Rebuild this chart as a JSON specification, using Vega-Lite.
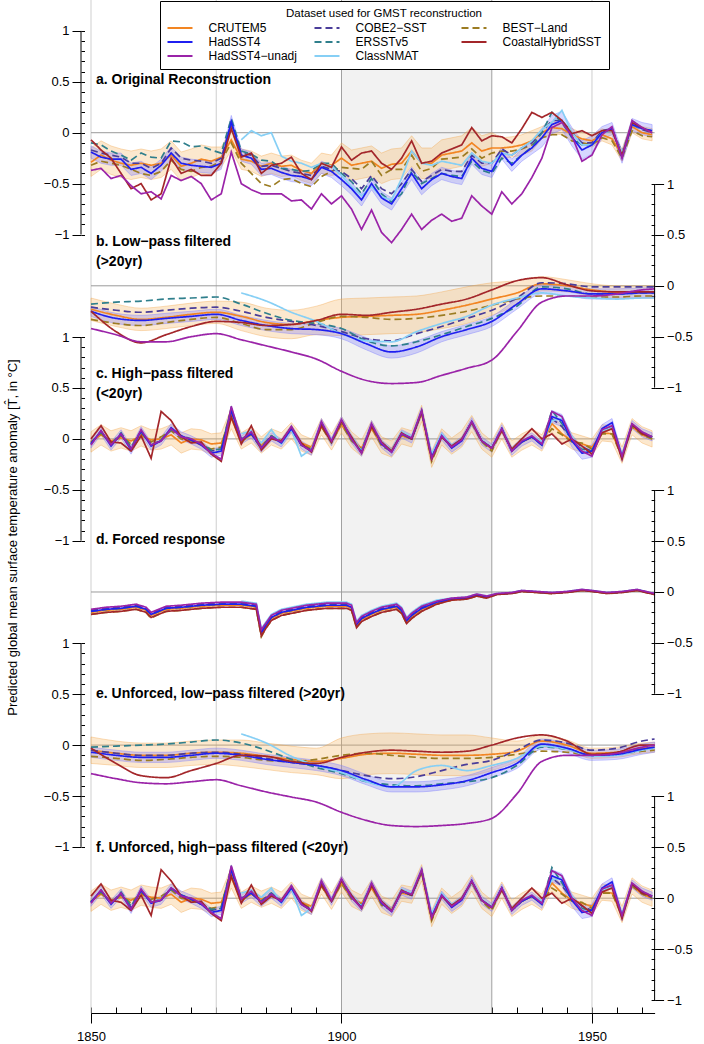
{
"$schema": "https://vega.github.io/schema/vega-lite/v6.json",
"width": 563.6, "height": 1013,
"autosize": {"type": "none"},
"padding": {"left": 91, "top": 0, "right": 49.4, "bottom": 31},
"background": "white",
"config": {"view": {"stroke": null}, "font": "Liberation Sans",
 "axis": {"labelFont": "Liberation Sans", "titleFont": "Liberation Sans", "labelColor": "#000", "tickColor": "#000", "domainColor": "#000", "titleColor": "#000", "grid": false, "tickWidth": 1},
 "text": {"font": "Liberation Sans"}},
"datasets": {
"names": [{"k":"C","s":"CRUTEM5"},{"k":"H","s":"HadSST4"},{"k":"U","s":"HadSST4−unadj"},{"k":"O","s":"COBE2−SST"},{"k":"E","s":"ERSSTv5"},{"k":"N","s":"ClassNMAT"},{"k":"B","s":"BEST−Land"},{"k":"K","s":"CoastalHybridSST"}],
"pa": [
{"x":1850,"C":-0.29,"Cl":-0.43,"Ch":-0.15,"H":-0.19,"Hl":-0.25,"Hh":-0.13,"U":-0.37,"O":-0.17,"E":-0.1,"B":-0.32,"K":-0.07},
{"x":1852,"C":-0.22,"Cl":-0.36,"Ch":-0.08,"H":-0.24,"Hl":-0.3,"Hh":-0.18,"U":-0.35,"O":-0.2,"E":-0.12,"B":-0.28,"K":-0.17},
{"x":1854,"C":-0.27,"Cl":-0.41,"Ch":-0.13,"H":-0.26,"Hl":-0.32,"Hh":-0.2,"U":-0.45,"O":-0.22,"E":-0.18,"B":-0.3,"K":-0.25},
{"x":1856,"C":-0.3,"Cl":-0.44,"Ch":-0.16,"H":-0.26,"Hl":-0.32,"Hh":-0.2,"U":-0.42,"O":-0.24,"E":-0.22,"B":-0.32,"K":-0.4},
{"x":1858,"C":-0.32,"Cl":-0.46,"Ch":-0.18,"H":-0.36,"Hl":-0.42,"Hh":-0.3,"U":-0.52,"O":-0.3,"E":-0.27,"B":-0.36,"K":-0.55},
{"x":1860,"C":-0.3,"Cl":-0.44,"Ch":-0.16,"H":-0.34,"Hl":-0.4,"Hh":-0.28,"U":-0.6,"O":-0.3,"E":-0.2,"B":-0.4,"K":-0.5},
{"x":1862,"C":-0.32,"Cl":-0.46,"Ch":-0.18,"H":-0.4,"Hl":-0.46,"Hh":-0.34,"U":-0.58,"O":-0.35,"E":-0.24,"B":-0.42,"K":-0.66},
{"x":1864,"C":-0.3,"Cl":-0.44,"Ch":-0.16,"H":-0.32,"Hl":-0.38,"Hh":-0.26,"U":-0.65,"O":-0.3,"E":-0.25,"B":-0.38,"K":-0.6},
{"x":1866,"C":-0.22,"Cl":-0.36,"Ch":-0.08,"H":-0.2,"Hl":-0.26,"Hh":-0.14,"U":-0.42,"O":-0.15,"E":-0.08,"B":-0.27,"K":-0.25},
{"x":1868,"C":-0.33,"Cl":-0.47,"Ch":-0.19,"H":-0.3,"Hl":-0.36,"Hh":-0.24,"U":-0.47,"O":-0.25,"E":-0.09,"B":-0.36,"K":-0.4},
{"x":1870,"C":-0.3,"Cl":-0.44,"Ch":-0.16,"H":-0.32,"Hl":-0.38,"Hh":-0.26,"U":-0.43,"O":-0.27,"E":-0.14,"B":-0.38,"K":-0.36},
{"x":1872,"C":-0.26,"Cl":-0.4,"Ch":-0.12,"H":-0.33,"Hl":-0.39,"Hh":-0.27,"U":-0.5,"O":-0.28,"E":-0.13,"B":-0.34,"K":-0.42},
{"x":1874,"C":-0.28,"Cl":-0.42,"Ch":-0.14,"H":-0.34,"Hl":-0.4,"Hh":-0.28,"U":-0.66,"O":-0.3,"E":-0.17,"B":-0.33,"K":-0.42},
{"x":1876,"C":-0.24,"Cl":-0.34,"Ch":-0.14,"H":-0.3,"Hl":-0.36,"Hh":-0.24,"U":-0.6,"O":-0.25,"E":-0.2,"B":-0.28,"K":-0.3},
{"x":1878,"C":-0.07,"Cl":-0.17,"Ch":0.03,"H":0.11,"Hl":0.05,"Hh":0.17,"U":-0.19,"O":0.09,"E":0.14,"B":-0.1,"K":0.04},
{"x":1880,"C":-0.26,"Cl":-0.36,"Ch":-0.16,"H":-0.22,"Hl":-0.28,"Hh":-0.16,"U":-0.5,"O":-0.2,"E":-0.18,"N":-0.07,"B":-0.3,"K":-0.24},
{"x":1882,"C":-0.28,"Cl":-0.38,"Ch":-0.18,"H":-0.25,"Hl":-0.31,"Hh":-0.19,"U":-0.56,"O":-0.22,"E":-0.21,"N":0.02,"B":-0.4,"K":-0.2},
{"x":1884,"C":-0.33,"Cl":-0.43,"Ch":-0.23,"H":-0.36,"Hl":-0.42,"Hh":-0.3,"U":-0.6,"O":-0.33,"E":-0.27,"N":-0.03,"B":-0.5,"K":-0.4},
{"x":1886,"C":-0.3,"Cl":-0.4,"Ch":-0.2,"H":-0.35,"Hl":-0.41,"Hh":-0.29,"U":-0.6,"O":-0.32,"E":-0.28,"N":0.0,"B":-0.53,"K":-0.32},
{"x":1888,"C":-0.33,"Cl":-0.43,"Ch":-0.23,"H":-0.39,"Hl":-0.45,"Hh":-0.33,"U":-0.6,"O":-0.35,"E":-0.35,"N":-0.23,"B":-0.46,"K":-0.3},
{"x":1890,"C":-0.32,"Cl":-0.42,"Ch":-0.22,"H":-0.42,"Hl":-0.48,"Hh":-0.36,"U":-0.67,"O":-0.38,"E":-0.36,"N":-0.28,"B":-0.45,"K":-0.24},
{"x":1892,"C":-0.37,"Cl":-0.47,"Ch":-0.27,"H":-0.43,"Hl":-0.49,"Hh":-0.37,"U":-0.66,"O":-0.4,"E":-0.38,"N":-0.3,"B":-0.5,"K":-0.4},
{"x":1894,"C":-0.4,"Cl":-0.5,"Ch":-0.3,"H":-0.46,"Hl":-0.52,"Hh":-0.4,"U":-0.75,"O":-0.42,"E":-0.37,"N":-0.34,"B":-0.53,"K":-0.46},
{"x":1896,"C":-0.3,"Cl":-0.4,"Ch":-0.2,"H":-0.34,"Hl":-0.4,"Hh":-0.28,"U":-0.6,"O":-0.33,"E":-0.3,"N":-0.3,"B":-0.43,"K":-0.3},
{"x":1898,"C":-0.32,"Cl":-0.42,"Ch":-0.22,"H":-0.38,"Hl":-0.44,"Hh":-0.32,"U":-0.7,"O":-0.36,"E":-0.3,"N":-0.33,"B":-0.38,"K":-0.34},
{"x":1900,"C":-0.25,"Cl":-0.4,"Ch":-0.1,"H":-0.46,"Hl":-0.52,"Hh":-0.4,"U":-0.62,"O":-0.38,"E":-0.4,"N":-0.42,"B":-0.34,"K":-0.14},
{"x":1902,"C":-0.32,"Cl":-0.47,"Ch":-0.17,"H":-0.55,"Hl":-0.61,"Hh":-0.49,"U":-0.75,"O":-0.45,"E":-0.48,"N":-0.53,"B":-0.35,"K":-0.27},
{"x":1904,"C":-0.3,"Cl":-0.45,"Ch":-0.15,"H":-0.66,"Hl":-0.72,"Hh":-0.6,"U":-0.95,"O":-0.55,"E":-0.6,"N":-0.62,"B":-0.36,"K":-0.2},
{"x":1906,"C":-0.28,"Cl":-0.43,"Ch":-0.13,"H":-0.5,"Hl":-0.56,"Hh":-0.44,"U":-0.76,"O":-0.42,"E":-0.45,"N":-0.53,"B":-0.28,"K":-0.18},
{"x":1908,"C":-0.35,"Cl":-0.5,"Ch":-0.2,"H":-0.64,"Hl":-0.7,"Hh":-0.58,"U":-0.98,"O":-0.55,"E":-0.6,"N":-0.63,"B":-0.42,"K":-0.3},
{"x":1910,"C":-0.31,"Cl":-0.46,"Ch":-0.16,"H":-0.7,"Hl":-0.76,"Hh":-0.64,"U":-1.08,"O":-0.6,"E":-0.68,"N":-0.66,"B":-0.36,"K":-0.36},
{"x":1912,"C":-0.3,"Cl":-0.45,"Ch":-0.15,"H":-0.55,"Hl":-0.61,"Hh":-0.49,"U":-0.95,"O":-0.5,"E":-0.6,"N":-0.45,"B":-0.36,"K":-0.25},
{"x":1914,"C":-0.18,"Cl":-0.33,"Ch":-0.03,"H":-0.4,"Hl":-0.46,"Hh":-0.34,"U":-0.8,"O":-0.36,"E":-0.38,"N":-0.18,"B":-0.22,"K":-0.08},
{"x":1916,"C":-0.3,"Cl":-0.45,"Ch":-0.15,"H":-0.55,"Hl":-0.61,"Hh":-0.49,"U":-0.95,"O":-0.48,"E":-0.5,"N":-0.3,"B":-0.38,"K":-0.3},
{"x":1918,"C":-0.3,"Cl":-0.45,"Ch":-0.15,"H":-0.46,"Hl":-0.52,"Hh":-0.4,"U":-0.86,"O":-0.42,"E":-0.45,"N":-0.32,"B":-0.35,"K":-0.28},
{"x":1920,"C":-0.22,"Cl":-0.37,"Ch":-0.07,"H":-0.4,"Hl":-0.46,"Hh":-0.34,"U":-0.8,"O":-0.36,"E":-0.4,"N":-0.28,"B":-0.26,"K":-0.2},
{"x":1922,"C":-0.2,"Cl":-0.35,"Ch":-0.05,"H":-0.43,"Hl":-0.49,"Hh":-0.37,"U":-0.87,"O":-0.38,"E":-0.42,"N":-0.3,"B":-0.25,"K":-0.16},
{"x":1924,"C":-0.18,"Cl":-0.33,"Ch":-0.03,"H":-0.45,"Hl":-0.51,"Hh":-0.39,"U":-0.84,"O":-0.38,"E":-0.43,"N":-0.32,"B":-0.24,"K":-0.12},
{"x":1926,"C":-0.1,"Cl":-0.25,"Ch":0.05,"H":-0.25,"Hl":-0.31,"Hh":-0.19,"U":-0.62,"O":-0.22,"E":-0.28,"N":-0.2,"B":-0.16,"K":0.05},
{"x":1928,"C":-0.18,"Cl":-0.33,"Ch":-0.03,"H":-0.35,"Hl":-0.41,"Hh":-0.29,"U":-0.72,"O":-0.3,"E":-0.37,"N":-0.28,"B":-0.25,"K":-0.08},
{"x":1930,"C":-0.15,"Cl":-0.3,"Ch":0.0,"H":-0.38,"Hl":-0.44,"Hh":-0.32,"U":-0.8,"O":-0.3,"E":-0.4,"N":-0.3,"B":-0.2,"K":-0.03},
{"x":1932,"C":-0.15,"Cl":-0.25,"Ch":-0.05,"H":-0.2,"Hl":-0.26,"Hh":-0.14,"U":-0.58,"O":-0.16,"E":-0.25,"N":-0.2,"B":-0.18,"K":-0.04},
{"x":1934,"C":-0.14,"Cl":-0.24,"Ch":-0.04,"H":-0.32,"Hl":-0.38,"Hh":-0.26,"U":-0.7,"O":-0.22,"E":-0.3,"N":-0.22,"B":-0.18,"K":-0.1},
{"x":1936,"C":-0.12,"Cl":-0.22,"Ch":-0.02,"H":-0.22,"Hl":-0.28,"Hh":-0.16,"U":-0.6,"O":-0.15,"E":-0.22,"N":-0.15,"B":-0.16,"K":0.04},
{"x":1938,"C":-0.08,"Cl":-0.18,"Ch":0.02,"H":-0.15,"Hl":-0.21,"Hh":-0.09,"U":-0.44,"O":-0.1,"E":-0.14,"N":-0.08,"B":-0.12,"K":0.2},
{"x":1940,"C":0.0,"Cl":-0.06,"Ch":0.06,"H":-0.05,"Hl":-0.14,"Hh":0.04,"U":-0.25,"O":0.0,"E":0.0,"N":0.03,"B":-0.05,"K":0.15},
{"x":1942,"C":0.05,"Cl":-0.01,"Ch":0.11,"H":0.08,"Hl":-0.01,"Hh":0.17,"U":0.05,"O":0.12,"E":0.2,"N":0.1,"B":-0.02,"K":0.2},
{"x":1944,"C":0.04,"Cl":-0.02,"Ch":0.1,"H":0.12,"Hl":0.03,"Hh":0.21,"U":0.1,"O":0.12,"E":0.1,"N":0.22,"B":-0.02,"K":0.12},
{"x":1946,"C":-0.02,"Cl":-0.08,"Ch":0.04,"H":-0.04,"Hl":-0.13,"Hh":0.05,"U":-0.03,"O":0.0,"E":-0.05,"N":0.0,"B":-0.08,"K":-0.01},
{"x":1948,"C":-0.06,"Cl":-0.12,"Ch":0.0,"H":-0.17,"Hl":-0.26,"Hh":-0.08,"U":-0.28,"O":-0.1,"E":-0.12,"N":-0.12,"B":-0.1,"K":0.02},
{"x":1950,"C":-0.08,"Cl":-0.14,"Ch":-0.02,"H":-0.12,"Hl":-0.21,"Hh":-0.03,"U":-0.22,"O":-0.1,"E":-0.12,"N":-0.12,"B":-0.12,"K":-0.03},
{"x":1952,"C":-0.02,"Cl":-0.08,"Ch":0.04,"H":0.0,"Hl":-0.06,"Hh":0.06,"U":-0.02,"O":0.02,"E":0.0,"N":0.0,"B":-0.05,"K":0.02},
{"x":1954,"C":-0.06,"Cl":-0.12,"Ch":0.0,"H":0.04,"Hl":-0.02,"Hh":0.1,"U":0.06,"O":0.04,"E":0.02,"N":0.02,"B":-0.08,"K":0.02},
{"x":1956,"C":-0.22,"Cl":-0.28,"Ch":-0.16,"H":-0.24,"Hl":-0.3,"Hh":-0.18,"U":-0.25,"O":-0.2,"E":-0.2,"N":-0.2,"B":-0.25,"K":-0.22},
{"x":1958,"C":0.06,"Cl":0.0,"Ch":0.12,"H":0.08,"Hl":0.02,"Hh":0.14,"U":0.12,"O":0.08,"E":0.08,"N":0.08,"B":0.02,"K":0.1},
{"x":1960,"C":0.0,"Cl":-0.06,"Ch":0.06,"H":0.04,"Hl":-0.02,"Hh":0.1,"U":0.05,"O":0.03,"E":0.04,"N":0.04,"B":-0.03,"K":0.05},
{"x":1962,"C":-0.02,"Cl":-0.08,"Ch":0.04,"H":0.02,"Hl":-0.04,"Hh":0.08,"U":0.0,"O":0.0,"E":0.02,"N":0.02,"B":-0.04,"K":0.0}
],
"pb": [
{"x":1850,"C":-0.23,"Cl":-0.34,"Ch":-0.12,"H":-0.25,"Hl":-0.3,"Hh":-0.2,"U":-0.42,"O":-0.21,"E":-0.18,"B":-0.33,"K":-0.25},
{"x":1855,"C":-0.29,"Cl":-0.4,"Ch":-0.18,"H":-0.32,"Hl":-0.37,"Hh":-0.27,"U":-0.48,"O":-0.24,"E":-0.16,"B":-0.37,"K":-0.45},
{"x":1860,"C":-0.33,"Cl":-0.44,"Ch":-0.22,"H":-0.34,"Hl":-0.39,"Hh":-0.29,"U":-0.55,"O":-0.26,"E":-0.15,"B":-0.39,"K":-0.56},
{"x":1865,"C":-0.31,"Cl":-0.42,"Ch":-0.2,"H":-0.32,"Hl":-0.37,"Hh":-0.27,"U":-0.55,"O":-0.24,"E":-0.13,"B":-0.36,"K":-0.48},
{"x":1870,"C":-0.28,"Cl":-0.39,"Ch":-0.17,"H":-0.3,"Hl":-0.35,"Hh":-0.25,"U":-0.5,"O":-0.22,"E":-0.12,"B":-0.33,"K":-0.4},
{"x":1875,"C":-0.26,"Cl":-0.37,"Ch":-0.15,"H":-0.28,"Hl":-0.33,"Hh":-0.23,"U":-0.47,"O":-0.21,"E":-0.11,"B":-0.31,"K":-0.35},
{"x":1880,"C":-0.3,"Cl":-0.44,"Ch":-0.16,"H":-0.34,"Hl":-0.39,"Hh":-0.29,"U":-0.53,"O":-0.25,"E":-0.18,"N":-0.07,"B":-0.37,"K":-0.36},
{"x":1885,"C":-0.36,"Cl":-0.5,"Ch":-0.22,"H":-0.39,"Hl":-0.44,"Hh":-0.34,"U":-0.59,"O":-0.31,"E":-0.27,"N":-0.15,"B":-0.43,"K":-0.39},
{"x":1890,"C":-0.38,"Cl":-0.52,"Ch":-0.24,"H":-0.42,"Hl":-0.47,"Hh":-0.37,"U":-0.65,"O":-0.35,"E":-0.34,"N":-0.26,"B":-0.43,"K":-0.38},
{"x":1895,"C":-0.34,"Cl":-0.48,"Ch":-0.2,"H":-0.43,"Hl":-0.48,"Hh":-0.38,"U":-0.72,"O":-0.39,"E":-0.37,"N":-0.35,"B":-0.36,"K":-0.34},
{"x":1900,"C":-0.31,"Cl":-0.49,"Ch":-0.13,"H":-0.47,"Hl":-0.52,"Hh":-0.42,"U":-0.84,"O":-0.45,"E":-0.42,"N":-0.47,"B":-0.3,"K":-0.28},
{"x":1905,"C":-0.3,"Cl":-0.48,"Ch":-0.12,"H":-0.57,"Hl":-0.63,"Hh":-0.51,"U":-0.93,"O":-0.52,"E":-0.54,"N":-0.54,"B":-0.31,"K":-0.29},
{"x":1910,"C":-0.29,"Cl":-0.47,"Ch":-0.11,"H":-0.65,"Hl":-0.71,"Hh":-0.59,"U":-0.96,"O":-0.54,"E":-0.59,"N":-0.55,"B":-0.33,"K":-0.26},
{"x":1915,"C":-0.28,"Cl":-0.46,"Ch":-0.1,"H":-0.6,"Hl":-0.66,"Hh":-0.54,"U":-0.95,"O":-0.47,"E":-0.55,"N":-0.45,"B":-0.32,"K":-0.23},
{"x":1920,"C":-0.24,"Cl":-0.42,"Ch":-0.06,"H":-0.5,"Hl":-0.55,"Hh":-0.45,"U":-0.88,"O":-0.4,"E":-0.48,"N":-0.37,"B":-0.29,"K":-0.18},
{"x":1925,"C":-0.19,"Cl":-0.37,"Ch":-0.01,"H":-0.43,"Hl":-0.48,"Hh":-0.38,"U":-0.81,"O":-0.32,"E":-0.4,"N":-0.3,"B":-0.25,"K":-0.13},
{"x":1930,"C":-0.13,"Cl":-0.29,"Ch":0.03,"H":-0.35,"Hl":-0.4,"Hh":-0.3,"U":-0.73,"O":-0.24,"E":-0.32,"N":-0.19,"B":-0.19,"K":-0.04},
{"x":1935,"C":-0.07,"Cl":-0.19,"Ch":0.05,"H":-0.18,"Hl":-0.23,"Hh":-0.13,"U":-0.45,"O":-0.12,"E":-0.2,"N":-0.12,"B":-0.13,"K":0.05},
{"x":1940,"C":0.02,"Cl":-0.05,"Ch":0.09,"H":-0.03,"Hl":-0.08,"Hh":0.02,"U":-0.16,"O":0.03,"E":-0.01,"N":-0.07,"B":-0.1,"K":0.08},
{"x":1945,"C":0.0,"Cl":-0.06,"Ch":0.06,"H":-0.05,"Hl":-0.1,"Hh":0.0,"U":-0.1,"O":0.02,"E":-0.03,"N":-0.1,"B":-0.1,"K":0.01},
{"x":1950,"C":-0.04,"Cl":-0.1,"Ch":0.02,"H":-0.08,"Hl":-0.13,"Hh":-0.03,"U":-0.1,"O":-0.01,"E":-0.08,"N":-0.12,"B":-0.11,"K":-0.05},
{"x":1955,"C":-0.06,"Cl":-0.12,"Ch":0.0,"H":-0.08,"Hl":-0.13,"Hh":-0.03,"U":-0.08,"O":-0.01,"E":-0.08,"N":-0.13,"B":-0.11,"K":-0.06},
{"x":1960,"C":-0.06,"Cl":-0.12,"Ch":0.0,"H":-0.07,"Hl":-0.12,"Hh":-0.02,"U":-0.04,"O":-0.01,"E":-0.07,"N":-0.12,"B":-0.1,"K":-0.06},
{"x":1962.5,"C":-0.06,"Cl":-0.12,"Ch":0.0,"H":-0.07,"Hl":-0.12,"Hh":-0.02,"U":-0.03,"O":-0.01,"E":-0.07,"N":-0.12,"B":-0.1,"K":-0.06}
],
"pc": [
{"x":1850,"C":-0.03,"Cl":-0.13,"Ch":0.07,"H":-0.05,"Hl":-0.09,"Hh":-0.01,"U":-0.06,"O":-0.04,"E":-0.05,"B":-0.03,"K":0.0},
{"x":1852,"C":0.04,"Cl":-0.06,"Ch":0.14,"H":0.08,"Hl":0.04,"Hh":0.12,"U":0.08,"O":0.07,"E":0.07,"B":0.05,"K":0.13},
{"x":1854,"C":-0.02,"Cl":-0.12,"Ch":0.08,"H":-0.07,"Hl":-0.11,"Hh":-0.03,"U":-0.06,"O":-0.05,"E":-0.05,"B":-0.04,"K":-0.03},
{"x":1856,"C":0.01,"Cl":-0.09,"Ch":0.11,"H":0.05,"Hl":0.01,"Hh":0.09,"U":0.05,"O":0.04,"E":0.06,"B":0.03,"K":-0.04},
{"x":1858,"C":-0.02,"Cl":-0.12,"Ch":0.08,"H":-0.11,"Hl":-0.15,"Hh":-0.07,"U":-0.1,"O":-0.09,"E":-0.08,"B":-0.05,"K":-0.12},
{"x":1860,"C":0.03,"Cl":-0.07,"Ch":0.13,"H":0.08,"Hl":0.04,"Hh":0.12,"U":0.09,"O":0.07,"E":0.08,"B":0.05,"K":0.03},
{"x":1862,"C":-0.01,"Cl":-0.11,"Ch":0.09,"H":-0.07,"Hl":-0.11,"Hh":-0.03,"U":-0.06,"O":-0.05,"E":-0.06,"B":-0.03,"K":-0.19},
{"x":1864,"C":0.0,"Cl":-0.1,"Ch":0.1,"H":-0.02,"Hl":-0.06,"Hh":0.02,"U":-0.02,"O":-0.02,"E":-0.01,"B":0.02,"K":0.27},
{"x":1866,"C":0.04,"Cl":-0.06,"Ch":0.14,"H":0.11,"Hl":0.07,"Hh":0.15,"U":0.1,"O":0.1,"E":0.09,"B":0.08,"K":0.18},
{"x":1868,"C":-0.04,"Cl":-0.14,"Ch":0.06,"H":0.03,"Hl":-0.01,"Hh":0.07,"U":0.02,"O":0.02,"E":0.03,"B":0.0,"K":0.02},
{"x":1870,"C":0.0,"Cl":-0.1,"Ch":0.1,"H":-0.01,"Hl":-0.05,"Hh":0.03,"U":0.0,"O":-0.01,"E":0.0,"B":-0.02,"K":-0.04},
{"x":1872,"C":-0.01,"Cl":-0.11,"Ch":0.09,"H":-0.06,"Hl":-0.1,"Hh":-0.02,"U":-0.05,"O":-0.05,"E":-0.05,"B":-0.06,"K":-0.03},
{"x":1874,"C":-0.05,"Cl":-0.15,"Ch":0.05,"H":-0.14,"Hl":-0.18,"Hh":-0.1,"U":-0.14,"O":-0.12,"E":-0.11,"B":-0.1,"K":-0.15},
{"x":1876,"C":-0.04,"Cl":-0.14,"Ch":0.06,"H":-0.12,"Hl":-0.16,"Hh":-0.08,"U":-0.2,"O":-0.1,"E":-0.1,"B":-0.08,"K":-0.22},
{"x":1878,"C":0.2,"Cl":0.1,"Ch":0.3,"H":0.28,"Hl":0.24,"Hh":0.32,"U":0.32,"O":0.28,"E":0.3,"B":0.3,"K":0.22},
{"x":1880,"C":-0.02,"Cl":-0.1,"Ch":0.06,"H":-0.01,"Hl":-0.05,"Hh":0.03,"U":-0.01,"O":-0.02,"E":0.0,"N":0.05,"B":-0.03,"K":-0.05},
{"x":1882,"C":0.04,"Cl":-0.04,"Ch":0.12,"H":0.05,"Hl":0.01,"Hh":0.09,"U":0.07,"O":0.06,"E":0.05,"N":0.08,"B":0.05,"K":0.13},
{"x":1884,"C":-0.06,"Cl":-0.14,"Ch":0.02,"H":-0.09,"Hl":-0.13,"Hh":-0.05,"U":-0.09,"O":-0.08,"E":-0.08,"N":-0.04,"B":-0.1,"K":-0.11},
{"x":1886,"C":0.02,"Cl":-0.06,"Ch":0.1,"H":0.02,"Hl":-0.02,"Hh":0.06,"U":0.02,"O":0.03,"E":0.03,"N":0.09,"B":0.03,"K":0.0},
{"x":1888,"C":-0.02,"Cl":-0.1,"Ch":0.06,"H":-0.04,"Hl":-0.08,"Hh":0.0,"U":-0.03,"O":-0.03,"E":-0.03,"N":-0.05,"B":-0.02,"K":-0.02},
{"x":1890,"C":0.08,"Cl":0.0,"Ch":0.16,"H":0.1,"Hl":0.06,"Hh":0.14,"U":0.12,"O":0.11,"E":0.1,"N":0.09,"B":0.1,"K":0.12},
{"x":1892,"C":-0.04,"Cl":-0.12,"Ch":0.04,"H":-0.06,"Hl":-0.1,"Hh":-0.02,"U":-0.06,"O":-0.06,"E":-0.06,"N":-0.17,"B":-0.05,"K":-0.04},
{"x":1894,"C":-0.08,"Cl":-0.16,"Ch":0.0,"H":-0.12,"Hl":-0.16,"Hh":-0.08,"U":-0.12,"O":-0.11,"E":-0.12,"N":-0.1,"B":-0.1,"K":-0.13},
{"x":1896,"C":0.12,"Cl":0.04,"Ch":0.2,"H":0.16,"Hl":0.12,"Hh":0.2,"U":0.17,"O":0.15,"E":0.15,"N":0.14,"B":0.12,"K":0.13},
{"x":1898,"C":-0.03,"Cl":-0.11,"Ch":0.05,"H":-0.03,"Hl":-0.07,"Hh":0.01,"U":-0.02,"O":-0.02,"E":-0.02,"N":-0.01,"B":-0.04,"K":-0.03},
{"x":1900,"C":0.14,"Cl":0.06,"Ch":0.22,"H":0.18,"Hl":0.14,"Hh":0.22,"U":0.19,"O":0.18,"E":0.18,"N":0.17,"B":0.15,"K":0.17},
{"x":1902,"C":-0.01,"Cl":-0.09,"Ch":0.07,"H":0.0,"Hl":-0.04,"Hh":0.04,"U":0.0,"O":0.0,"E":0.01,"N":0.02,"B":-0.02,"K":0.02},
{"x":1904,"C":-0.09,"Cl":-0.17,"Ch":-0.01,"H":-0.13,"Hl":-0.17,"Hh":-0.09,"U":-0.14,"O":-0.12,"E":-0.12,"N":-0.12,"B":-0.1,"K":-0.14},
{"x":1906,"C":0.1,"Cl":0.02,"Ch":0.18,"H":0.14,"Hl":0.1,"Hh":0.18,"U":0.15,"O":0.13,"E":0.14,"N":0.13,"B":0.12,"K":0.12},
{"x":1908,"C":-0.06,"Cl":-0.14,"Ch":0.02,"H":-0.05,"Hl":-0.09,"Hh":-0.01,"U":-0.04,"O":-0.04,"E":-0.04,"N":-0.03,"B":-0.07,"K":-0.03},
{"x":1910,"C":-0.1,"Cl":-0.18,"Ch":-0.02,"H":-0.13,"Hl":-0.17,"Hh":-0.09,"U":-0.13,"O":-0.12,"E":-0.12,"N":-0.11,"B":-0.12,"K":-0.12},
{"x":1912,"C":0.03,"Cl":-0.05,"Ch":0.11,"H":0.05,"Hl":0.01,"Hh":0.09,"U":0.05,"O":0.05,"E":0.05,"N":0.07,"B":0.04,"K":0.06},
{"x":1914,"C":0.0,"Cl":-0.08,"Ch":0.08,"H":0.0,"Hl":-0.04,"Hh":0.04,"U":0.01,"O":0.0,"E":0.0,"N":0.02,"B":0.0,"K":0.0},
{"x":1916,"C":0.25,"Cl":0.17,"Ch":0.33,"H":0.27,"Hl":0.23,"Hh":0.31,"U":0.28,"O":0.27,"E":0.27,"N":0.28,"B":0.26,"K":0.27},
{"x":1918,"C":-0.2,"Cl":-0.28,"Ch":-0.12,"H":-0.18,"Hl":-0.22,"Hh":-0.14,"U":-0.19,"O":-0.18,"E":-0.17,"N":-0.15,"B":-0.22,"K":-0.2},
{"x":1920,"C":0.02,"Cl":-0.06,"Ch":0.1,"H":0.03,"Hl":-0.01,"Hh":0.07,"U":0.03,"O":0.03,"E":0.03,"N":0.05,"B":0.02,"K":0.02},
{"x":1922,"C":-0.07,"Cl":-0.15,"Ch":0.01,"H":-0.09,"Hl":-0.13,"Hh":-0.05,"U":-0.08,"O":-0.08,"E":-0.08,"N":-0.06,"B":-0.08,"K":-0.07},
{"x":1924,"C":0.0,"Cl":-0.08,"Ch":0.08,"H":-0.02,"Hl":-0.06,"Hh":0.02,"U":-0.01,"O":-0.01,"E":-0.01,"N":0.0,"B":0.0,"K":0.0},
{"x":1926,"C":0.15,"Cl":0.07,"Ch":0.23,"H":0.17,"Hl":0.13,"Hh":0.21,"U":0.17,"O":0.17,"E":0.16,"N":0.15,"B":0.15,"K":0.16},
{"x":1928,"C":-0.02,"Cl":-0.1,"Ch":0.06,"H":-0.02,"Hl":-0.06,"Hh":0.02,"U":-0.02,"O":-0.02,"E":-0.02,"N":-0.01,"B":-0.03,"K":-0.02},
{"x":1930,"C":-0.1,"Cl":-0.18,"Ch":-0.02,"H":-0.09,"Hl":-0.13,"Hh":-0.05,"U":-0.09,"O":-0.09,"E":-0.09,"N":-0.08,"B":-0.12,"K":-0.09},
{"x":1932,"C":0.08,"Cl":0.0,"Ch":0.16,"H":0.1,"Hl":0.06,"Hh":0.14,"U":0.1,"O":0.1,"E":0.1,"N":0.09,"B":0.09,"K":0.08},
{"x":1934,"C":-0.1,"Cl":-0.18,"Ch":-0.02,"H":-0.12,"Hl":-0.16,"Hh":-0.08,"U":-0.12,"O":-0.11,"E":-0.11,"N":-0.1,"B":-0.12,"K":-0.1},
{"x":1936,"C":-0.03,"Cl":-0.11,"Ch":0.05,"H":-0.03,"Hl":-0.07,"Hh":0.01,"U":-0.02,"O":-0.02,"E":-0.03,"N":-0.02,"B":-0.03,"K":0.0},
{"x":1938,"C":0.02,"Cl":-0.06,"Ch":0.1,"H":0.02,"Hl":-0.02,"Hh":0.06,"U":0.03,"O":0.02,"E":0.02,"N":0.03,"B":0.02,"K":0.1},
{"x":1940,"C":-0.04,"Cl":-0.12,"Ch":0.04,"H":-0.06,"Hl":-0.1,"Hh":-0.02,"U":-0.05,"O":-0.05,"E":-0.06,"N":-0.03,"B":-0.04,"K":0.0},
{"x":1942,"C":0.15,"Cl":0.07,"Ch":0.23,"H":0.22,"Hl":0.16,"Hh":0.28,"U":0.27,"O":0.2,"E":0.28,"N":0.18,"B":0.1,"K":0.05},
{"x":1944,"C":0.05,"Cl":-0.03,"Ch":0.13,"H":0.18,"Hl":0.12,"Hh":0.24,"U":0.22,"O":0.12,"E":0.15,"N":0.2,"B":0.04,"K":-0.05},
{"x":1946,"C":-0.02,"Cl":-0.1,"Ch":0.06,"H":-0.02,"Hl":-0.08,"Hh":0.04,"U":0.0,"O":0.0,"E":-0.02,"N":0.02,"B":-0.03,"K":0.0},
{"x":1948,"C":-0.05,"Cl":-0.13,"Ch":0.03,"H":-0.14,"Hl":-0.2,"Hh":-0.08,"U":-0.12,"O":-0.08,"E":-0.1,"N":-0.12,"B":-0.04,"K":-0.07},
{"x":1950,"C":-0.08,"Cl":-0.16,"Ch":0.0,"H":-0.12,"Hl":-0.18,"Hh":-0.06,"U":-0.17,"O":-0.12,"E":-0.12,"N":-0.14,"B":-0.1,"K":-0.15},
{"x":1952,"C":0.06,"Cl":-0.02,"Ch":0.14,"H":0.1,"Hl":0.06,"Hh":0.14,"U":0.09,"O":0.08,"E":0.08,"N":0.08,"B":0.05,"K":0.06},
{"x":1954,"C":0.05,"Cl":-0.03,"Ch":0.13,"H":0.16,"Hl":0.12,"Hh":0.2,"U":0.13,"O":0.12,"E":0.12,"N":0.11,"B":0.05,"K":0.1},
{"x":1956,"C":-0.16,"Cl":-0.24,"Ch":-0.08,"H":-0.18,"Hl":-0.22,"Hh":-0.14,"U":-0.17,"O":-0.16,"E":-0.17,"N":-0.15,"B":-0.18,"K":-0.2},
{"x":1958,"C":0.12,"Cl":0.04,"Ch":0.2,"H":0.14,"Hl":0.1,"Hh":0.18,"U":0.15,"O":0.14,"E":0.14,"N":0.14,"B":0.12,"K":0.14},
{"x":1960,"C":0.04,"Cl":-0.04,"Ch":0.12,"H":0.06,"Hl":0.02,"Hh":0.1,"U":0.07,"O":0.05,"E":0.06,"N":0.06,"B":0.04,"K":0.05},
{"x":1962,"C":0.0,"Cl":-0.08,"Ch":0.08,"H":0.02,"Hl":-0.02,"Hh":0.06,"U":0.02,"O":0.01,"E":0.02,"N":0.02,"B":0.0,"K":0.02}
],
"pd": [
{"x":1850,"C":-0.2,"H":-0.19,"U":-0.17,"O":-0.18,"E":-0.19,"B":-0.22,"K":-0.22},
{"x":1853,"C":-0.18,"H":-0.17,"U":-0.15,"O":-0.16,"E":-0.17,"B":-0.2,"K":-0.2},
{"x":1856,"C":-0.17,"H":-0.16,"U":-0.14,"O":-0.15,"E":-0.16,"B":-0.19,"K":-0.19},
{"x":1859,"C":-0.15,"H":-0.14,"U":-0.12,"O":-0.13,"E":-0.14,"B":-0.17,"K":-0.17},
{"x":1861,"C":-0.18,"H":-0.17,"U":-0.15,"O":-0.16,"E":-0.17,"B":-0.2,"K":-0.2},
{"x":1862,"C":-0.23,"H":-0.22,"U":-0.2,"O":-0.21,"E":-0.22,"B":-0.26,"K":-0.25},
{"x":1863,"C":-0.21,"H":-0.2,"U":-0.18,"O":-0.19,"E":-0.2,"B":-0.23,"K":-0.23},
{"x":1865,"C":-0.17,"H":-0.16,"U":-0.14,"O":-0.15,"E":-0.16,"B":-0.19,"K":-0.19},
{"x":1868,"C":-0.16,"H":-0.15,"U":-0.13,"O":-0.14,"E":-0.15,"B":-0.18,"K":-0.18},
{"x":1872,"C":-0.14,"H":-0.13,"U":-0.11,"O":-0.12,"E":-0.13,"B":-0.16,"K":-0.16},
{"x":1876,"C":-0.13,"H":-0.12,"U":-0.1,"O":-0.11,"E":-0.12,"B":-0.15,"K":-0.15},
{"x":1880,"C":-0.13,"H":-0.12,"U":-0.1,"O":-0.11,"E":-0.12,"N":-0.09,"B":-0.15,"K":-0.15},
{"x":1883,"C":-0.15,"H":-0.14,"U":-0.12,"O":-0.13,"E":-0.14,"N":-0.11,"B":-0.17,"K":-0.17},
{"x":1884,"C":-0.41,"H":-0.4,"U":-0.37,"O":-0.39,"E":-0.4,"N":-0.36,"B":-0.44,"K":-0.43},
{"x":1885,"C":-0.33,"H":-0.32,"U":-0.3,"O":-0.31,"E":-0.32,"N":-0.29,"B":-0.35,"K":-0.35},
{"x":1886,"C":-0.26,"H":-0.25,"U":-0.23,"O":-0.24,"E":-0.25,"N":-0.22,"B":-0.28,"K":-0.28},
{"x":1888,"C":-0.21,"H":-0.2,"U":-0.18,"O":-0.19,"E":-0.2,"N":-0.17,"B":-0.23,"K":-0.23},
{"x":1890,"C":-0.19,"H":-0.18,"U":-0.16,"O":-0.17,"E":-0.18,"N":-0.15,"B":-0.21,"K":-0.21},
{"x":1893,"C":-0.16,"H":-0.15,"U":-0.13,"O":-0.14,"E":-0.15,"N":-0.12,"B":-0.18,"K":-0.18},
{"x":1897,"C":-0.14,"H":-0.13,"U":-0.11,"O":-0.12,"E":-0.13,"N":-0.1,"B":-0.16,"K":-0.16},
{"x":1901,"C":-0.14,"H":-0.13,"U":-0.11,"O":-0.12,"E":-0.13,"N":-0.1,"B":-0.16,"K":-0.16},
{"x":1902,"C":-0.16,"H":-0.15,"U":-0.13,"O":-0.14,"E":-0.15,"N":-0.12,"B":-0.18,"K":-0.18},
{"x":1903,"C":-0.33,"H":-0.32,"U":-0.3,"O":-0.31,"E":-0.32,"N":-0.29,"B":-0.35,"K":-0.35},
{"x":1904,"C":-0.27,"H":-0.26,"U":-0.24,"O":-0.25,"E":-0.26,"N":-0.23,"B":-0.29,"K":-0.29},
{"x":1906,"C":-0.22,"H":-0.21,"U":-0.19,"O":-0.2,"E":-0.21,"N":-0.18,"B":-0.24,"K":-0.24},
{"x":1908,"C":-0.18,"H":-0.17,"U":-0.15,"O":-0.16,"E":-0.17,"N":-0.14,"B":-0.2,"K":-0.2},
{"x":1911,"C":-0.15,"H":-0.14,"U":-0.12,"O":-0.13,"E":-0.14,"N":-0.11,"B":-0.17,"K":-0.17},
{"x":1912,"C":-0.19,"H":-0.18,"U":-0.16,"O":-0.17,"E":-0.18,"N":-0.15,"B":-0.21,"K":-0.21},
{"x":1913,"C":-0.29,"H":-0.28,"U":-0.26,"O":-0.27,"E":-0.28,"N":-0.25,"B":-0.31,"K":-0.31},
{"x":1914,"C":-0.24,"H":-0.23,"U":-0.21,"O":-0.22,"E":-0.23,"N":-0.2,"B":-0.26,"K":-0.26},
{"x":1916,"C":-0.17,"H":-0.16,"U":-0.14,"O":-0.15,"E":-0.16,"N":-0.13,"B":-0.19,"K":-0.19},
{"x":1919,"C":-0.11,"H":-0.1,"U":-0.09,"O":-0.1,"E":-0.1,"N":-0.08,"B":-0.12,"K":-0.12},
{"x":1922,"C":-0.08,"H":-0.07,"U":-0.06,"O":-0.07,"E":-0.07,"N":-0.06,"B":-0.08,"K":-0.08},
{"x":1925,"C":-0.06,"H":-0.06,"U":-0.05,"O":-0.06,"E":-0.06,"N":-0.05,"B":-0.07,"K":-0.07},
{"x":1927,"C":-0.03,"H":-0.03,"U":-0.02,"O":-0.03,"E":-0.03,"N":-0.02,"B":-0.04,"K":-0.04},
{"x":1929,"C":-0.05,"H":-0.05,"U":-0.04,"O":-0.05,"E":-0.05,"N":-0.04,"B":-0.06,"K":-0.06},
{"x":1931,"C":-0.02,"H":-0.02,"U":-0.015,"O":-0.02,"E":-0.02,"N":-0.015,"B":-0.025,"K":-0.025},
{"x":1934,"C":-0.01,"H":-0.01,"U":-0.005,"O":-0.01,"E":-0.01,"N":-0.005,"B":-0.015,"K":-0.015},
{"x":1936,"C":0.01,"H":0.01,"U":0.015,"O":0.01,"E":0.01,"N":0.015,"B":0.005,"K":0.005},
{"x":1939,"C":0.0,"H":0.0,"U":0.005,"O":0.0,"E":0.0,"N":0.005,"B":-0.005,"K":-0.005},
{"x":1942,"C":-0.01,"H":-0.01,"U":-0.005,"O":-0.01,"E":-0.01,"N":-0.005,"B":-0.015,"K":-0.015},
{"x":1945,"C":0.0,"H":0.0,"U":0.005,"O":0.0,"E":0.0,"N":0.005,"B":-0.005,"K":-0.005},
{"x":1948,"C":0.02,"H":0.02,"U":0.025,"O":0.02,"E":0.02,"N":0.025,"B":0.015,"K":0.015},
{"x":1950,"C":0.01,"H":0.01,"U":0.015,"O":0.01,"E":0.01,"N":0.015,"B":0.005,"K":0.005},
{"x":1953,"C":-0.01,"H":-0.01,"U":-0.005,"O":-0.01,"E":-0.01,"N":-0.005,"B":-0.015,"K":-0.015},
{"x":1956,"C":0.0,"H":0.0,"U":0.005,"O":0.0,"E":0.0,"N":0.005,"B":-0.005,"K":-0.005},
{"x":1959,"C":0.02,"H":0.02,"U":0.025,"O":0.02,"E":0.02,"N":0.025,"B":0.015,"K":0.015},
{"x":1962.5,"C":-0.02,"H":-0.02,"U":-0.015,"O":-0.02,"E":-0.02,"N":-0.015,"B":-0.025,"K":-0.025}
],
"pe": [
{"x":1850,"C":-0.05,"Cl":-0.18,"Ch":0.08,"H":-0.07,"Hl":-0.12,"Hh":-0.02,"U":-0.28,"O":-0.05,"E":-0.02,"B":-0.11,"K":-0.03},
{"x":1855,"C":-0.08,"Cl":-0.2,"Ch":0.04,"H":-0.1,"Hl":-0.15,"Hh":-0.05,"U":-0.33,"O":-0.08,"E":-0.01,"B":-0.13,"K":-0.18},
{"x":1860,"C":-0.1,"Cl":-0.22,"Ch":0.02,"H":-0.12,"Hl":-0.17,"Hh":-0.07,"U":-0.37,"O":-0.1,"E":0.0,"B":-0.15,"K":-0.3},
{"x":1865,"C":-0.1,"Cl":-0.22,"Ch":0.02,"H":-0.12,"Hl":-0.17,"Hh":-0.07,"U":-0.38,"O":-0.1,"E":0.01,"B":-0.14,"K":-0.32},
{"x":1870,"C":-0.08,"Cl":-0.2,"Ch":0.04,"H":-0.1,"Hl":-0.15,"Hh":-0.05,"U":-0.36,"O":-0.08,"E":0.03,"B":-0.12,"K":-0.25},
{"x":1875,"C":-0.07,"Cl":-0.19,"Ch":0.05,"H":-0.08,"Hl":-0.13,"Hh":-0.03,"U":-0.34,"O":-0.07,"E":0.05,"B":-0.11,"K":-0.18},
{"x":1880,"C":-0.08,"Cl":-0.21,"Ch":0.05,"H":-0.1,"Hl":-0.15,"Hh":-0.05,"U":-0.4,"O":-0.09,"E":0.02,"N":0.11,"B":-0.12,"K":-0.1},
{"x":1885,"C":-0.11,"Cl":-0.24,"Ch":0.02,"H":-0.14,"Hl":-0.19,"Hh":-0.09,"U":-0.46,"O":-0.13,"E":-0.05,"N":0.02,"B":-0.15,"K":-0.11},
{"x":1890,"C":-0.14,"Cl":-0.27,"Ch":-0.01,"H":-0.17,"Hl":-0.22,"Hh":-0.12,"U":-0.51,"O":-0.17,"E":-0.14,"N":-0.11,"B":-0.16,"K":-0.16},
{"x":1895,"C":-0.16,"Cl":-0.29,"Ch":-0.03,"H":-0.2,"Hl":-0.25,"Hh":-0.15,"U":-0.56,"O":-0.2,"E":-0.22,"N":-0.2,"B":-0.14,"K":-0.18},
{"x":1900,"C":-0.13,"Cl":-0.33,"Ch":0.07,"H":-0.25,"Hl":-0.3,"Hh":-0.2,"U":-0.66,"O":-0.25,"E":-0.28,"N":-0.27,"B":-0.1,"K":-0.12},
{"x":1905,"C":-0.09,"Cl":-0.29,"Ch":0.11,"H":-0.34,"Hl":-0.39,"Hh":-0.29,"U":-0.74,"O":-0.3,"E":-0.36,"N":-0.36,"B":-0.08,"K":-0.07},
{"x":1910,"C":-0.08,"Cl":-0.28,"Ch":0.12,"H":-0.41,"Hl":-0.46,"Hh":-0.36,"U":-0.79,"O":-0.33,"E":-0.39,"N":-0.41,"B":-0.1,"K":-0.05},
{"x":1915,"C":-0.09,"Cl":-0.29,"Ch":0.11,"H":-0.41,"Hl":-0.46,"Hh":-0.36,"U":-0.8,"O":-0.31,"E":-0.4,"N":-0.25,"B":-0.12,"K":-0.06},
{"x":1920,"C":-0.1,"Cl":-0.3,"Ch":0.1,"H":-0.39,"Hl":-0.44,"Hh":-0.34,"U":-0.79,"O":-0.25,"E":-0.38,"N":-0.2,"B":-0.13,"K":-0.07},
{"x":1925,"C":-0.1,"Cl":-0.3,"Ch":0.1,"H":-0.35,"Hl":-0.4,"Hh":-0.3,"U":-0.77,"O":-0.19,"E":-0.36,"N":-0.25,"B":-0.13,"K":-0.06},
{"x":1930,"C":-0.09,"Cl":-0.25,"Ch":0.07,"H":-0.27,"Hl":-0.32,"Hh":-0.22,"U":-0.72,"O":-0.15,"E":-0.32,"N":-0.2,"B":-0.12,"K":0.0},
{"x":1935,"C":-0.06,"Cl":-0.16,"Ch":0.04,"H":-0.18,"Hl":-0.23,"Hh":-0.13,"U":-0.48,"O":-0.05,"E":-0.2,"N":-0.13,"B":-0.09,"K":0.07},
{"x":1940,"C":0.04,"Cl":-0.02,"Ch":0.1,"H":0.01,"Hl":-0.04,"Hh":0.06,"U":-0.16,"O":0.05,"E":-0.02,"N":-0.01,"B":-0.06,"K":0.1},
{"x":1945,"C":0.0,"Cl":-0.05,"Ch":0.05,"H":-0.03,"Hl":-0.08,"Hh":0.02,"U":-0.1,"O":0.02,"E":-0.04,"N":-0.04,"B":-0.07,"K":0.04},
{"x":1950,"C":-0.08,"Cl":-0.13,"Ch":-0.03,"H":-0.1,"Hl":-0.15,"Hh":-0.05,"U":-0.1,"O":-0.05,"E":-0.1,"N":-0.11,"B":-0.1,"K":-0.09},
{"x":1955,"C":-0.07,"Cl":-0.12,"Ch":-0.02,"H":-0.09,"Hl":-0.14,"Hh":-0.04,"U":-0.08,"O":-0.03,"E":-0.08,"N":-0.1,"B":-0.09,"K":-0.07},
{"x":1960,"C":-0.03,"Cl":-0.08,"Ch":0.02,"H":-0.04,"Hl":-0.09,"Hh":0.01,"U":-0.02,"O":0.04,"E":-0.04,"N":-0.05,"B":-0.06,"K":0.0},
{"x":1962.5,"C":-0.02,"Cl":-0.07,"Ch":0.03,"H":-0.02,"Hl":-0.07,"Hh":0.03,"U":0.0,"O":0.06,"E":-0.03,"N":-0.03,"B":-0.05,"K":0.0}
],
"pf": [
{"x":1850,"C":-0.03,"Cl":-0.13,"Ch":0.07,"H":-0.04,"Hl":-0.08,"Hh":0.0,"U":-0.05,"O":-0.04,"E":-0.04,"B":-0.03,"K":0.02},
{"x":1852,"C":0.04,"Cl":-0.06,"Ch":0.14,"H":0.08,"Hl":0.04,"Hh":0.12,"U":0.08,"O":0.07,"E":0.07,"B":0.05,"K":0.14},
{"x":1854,"C":-0.02,"Cl":-0.12,"Ch":0.08,"H":-0.06,"Hl":-0.1,"Hh":-0.02,"U":-0.05,"O":-0.05,"E":-0.05,"B":-0.04,"K":-0.02},
{"x":1856,"C":0.01,"Cl":-0.09,"Ch":0.11,"H":0.05,"Hl":0.01,"Hh":0.09,"U":0.05,"O":0.04,"E":0.06,"B":0.03,"K":-0.04},
{"x":1858,"C":-0.02,"Cl":-0.12,"Ch":0.08,"H":-0.11,"Hl":-0.15,"Hh":-0.07,"U":-0.11,"O":-0.09,"E":-0.08,"B":-0.05,"K":-0.12},
{"x":1860,"C":0.03,"Cl":-0.07,"Ch":0.13,"H":0.08,"Hl":0.04,"Hh":0.12,"U":0.09,"O":0.07,"E":0.08,"B":0.05,"K":0.03},
{"x":1862,"C":0.01,"Cl":-0.09,"Ch":0.11,"H":-0.05,"Hl":-0.09,"Hh":-0.01,"U":-0.04,"O":-0.03,"E":-0.04,"B":-0.01,"K":-0.17},
{"x":1864,"C":0.0,"Cl":-0.1,"Ch":0.1,"H":-0.02,"Hl":-0.06,"Hh":0.02,"U":-0.02,"O":-0.02,"E":-0.01,"B":0.02,"K":0.28},
{"x":1866,"C":0.04,"Cl":-0.06,"Ch":0.14,"H":0.1,"Hl":0.06,"Hh":0.14,"U":0.1,"O":0.1,"E":0.09,"B":0.08,"K":0.17},
{"x":1868,"C":-0.04,"Cl":-0.14,"Ch":0.06,"H":0.03,"Hl":-0.01,"Hh":0.07,"U":0.02,"O":0.02,"E":0.03,"B":0.0,"K":0.02},
{"x":1870,"C":0.0,"Cl":-0.1,"Ch":0.1,"H":-0.01,"Hl":-0.05,"Hh":0.03,"U":0.0,"O":-0.01,"E":0.0,"B":-0.02,"K":-0.04},
{"x":1872,"C":-0.01,"Cl":-0.11,"Ch":0.09,"H":-0.06,"Hl":-0.1,"Hh":-0.02,"U":-0.05,"O":-0.05,"E":-0.05,"B":-0.06,"K":-0.03},
{"x":1874,"C":-0.05,"Cl":-0.15,"Ch":0.05,"H":-0.14,"Hl":-0.18,"Hh":-0.1,"U":-0.14,"O":-0.12,"E":-0.11,"B":-0.1,"K":-0.15},
{"x":1876,"C":-0.04,"Cl":-0.14,"Ch":0.06,"H":-0.12,"Hl":-0.16,"Hh":-0.08,"U":-0.2,"O":-0.1,"E":-0.1,"B":-0.08,"K":-0.22},
{"x":1878,"C":0.2,"Cl":0.1,"Ch":0.3,"H":0.28,"Hl":0.24,"Hh":0.32,"U":0.32,"O":0.28,"E":0.3,"B":0.3,"K":0.22},
{"x":1880,"C":-0.02,"Cl":-0.1,"Ch":0.06,"H":-0.01,"Hl":-0.05,"Hh":0.03,"U":-0.01,"O":-0.02,"E":0.0,"N":0.05,"B":-0.03,"K":-0.05},
{"x":1882,"C":0.04,"Cl":-0.04,"Ch":0.12,"H":0.05,"Hl":0.01,"Hh":0.09,"U":0.07,"O":0.06,"E":0.05,"N":0.08,"B":0.05,"K":0.13},
{"x":1884,"C":-0.01,"Cl":-0.09,"Ch":0.07,"H":-0.04,"Hl":-0.08,"Hh":0.0,"U":-0.04,"O":-0.03,"E":-0.03,"N":0.01,"B":-0.05,"K":-0.06},
{"x":1886,"C":0.03,"Cl":-0.05,"Ch":0.11,"H":0.04,"Hl":0.0,"Hh":0.08,"U":0.04,"O":0.05,"E":0.05,"N":0.1,"B":0.05,"K":0.02},
{"x":1888,"C":-0.02,"Cl":-0.1,"Ch":0.06,"H":-0.04,"Hl":-0.08,"Hh":0.0,"U":-0.03,"O":-0.03,"E":-0.03,"N":-0.05,"B":-0.02,"K":-0.02},
{"x":1890,"C":0.08,"Cl":0.0,"Ch":0.16,"H":0.1,"Hl":0.06,"Hh":0.14,"U":0.12,"O":0.11,"E":0.1,"N":0.09,"B":0.1,"K":0.12},
{"x":1892,"C":-0.04,"Cl":-0.12,"Ch":0.04,"H":-0.06,"Hl":-0.1,"Hh":-0.02,"U":-0.06,"O":-0.06,"E":-0.06,"N":-0.17,"B":-0.05,"K":-0.04},
{"x":1894,"C":-0.08,"Cl":-0.16,"Ch":0.0,"H":-0.12,"Hl":-0.16,"Hh":-0.08,"U":-0.12,"O":-0.11,"E":-0.12,"N":-0.1,"B":-0.1,"K":-0.13},
{"x":1896,"C":0.12,"Cl":0.04,"Ch":0.2,"H":0.16,"Hl":0.12,"Hh":0.2,"U":0.17,"O":0.15,"E":0.15,"N":0.14,"B":0.12,"K":0.13},
{"x":1898,"C":-0.03,"Cl":-0.11,"Ch":0.05,"H":-0.03,"Hl":-0.07,"Hh":0.01,"U":-0.02,"O":-0.02,"E":-0.02,"N":-0.01,"B":-0.04,"K":-0.03},
{"x":1900,"C":0.14,"Cl":0.06,"Ch":0.22,"H":0.18,"Hl":0.14,"Hh":0.22,"U":0.19,"O":0.18,"E":0.18,"N":0.17,"B":0.15,"K":0.17},
{"x":1902,"C":0.0,"Cl":-0.08,"Ch":0.08,"H":0.01,"Hl":-0.03,"Hh":0.05,"U":0.01,"O":0.01,"E":0.02,"N":0.03,"B":-0.01,"K":0.03},
{"x":1904,"C":-0.05,"Cl":-0.13,"Ch":0.03,"H":-0.09,"Hl":-0.13,"Hh":-0.05,"U":-0.1,"O":-0.08,"E":-0.08,"N":-0.08,"B":-0.06,"K":-0.1},
{"x":1906,"C":0.1,"Cl":0.02,"Ch":0.18,"H":0.14,"Hl":0.1,"Hh":0.18,"U":0.15,"O":0.13,"E":0.14,"N":0.13,"B":0.12,"K":0.12},
{"x":1908,"C":-0.06,"Cl":-0.14,"Ch":0.02,"H":-0.05,"Hl":-0.09,"Hh":-0.01,"U":-0.04,"O":-0.04,"E":-0.04,"N":-0.03,"B":-0.07,"K":-0.03},
{"x":1910,"C":-0.1,"Cl":-0.18,"Ch":-0.02,"H":-0.13,"Hl":-0.17,"Hh":-0.09,"U":-0.13,"O":-0.12,"E":-0.12,"N":-0.11,"B":-0.12,"K":-0.12},
{"x":1912,"C":0.05,"Cl":-0.03,"Ch":0.13,"H":0.07,"Hl":0.03,"Hh":0.11,"U":0.07,"O":0.07,"E":0.07,"N":0.09,"B":0.06,"K":0.08},
{"x":1914,"C":0.03,"Cl":-0.05,"Ch":0.11,"H":0.03,"Hl":-0.01,"Hh":0.07,"U":0.04,"O":0.03,"E":0.03,"N":0.05,"B":0.03,"K":0.03},
{"x":1916,"C":0.25,"Cl":0.17,"Ch":0.33,"H":0.27,"Hl":0.23,"Hh":0.31,"U":0.28,"O":0.27,"E":0.27,"N":0.28,"B":0.26,"K":0.27},
{"x":1918,"C":-0.2,"Cl":-0.28,"Ch":-0.12,"H":-0.18,"Hl":-0.22,"Hh":-0.14,"U":-0.19,"O":-0.18,"E":-0.17,"N":-0.15,"B":-0.22,"K":-0.2},
{"x":1920,"C":0.02,"Cl":-0.06,"Ch":0.1,"H":0.03,"Hl":-0.01,"Hh":0.07,"U":0.03,"O":0.03,"E":0.03,"N":0.05,"B":0.02,"K":0.02},
{"x":1922,"C":-0.07,"Cl":-0.15,"Ch":0.01,"H":-0.09,"Hl":-0.13,"Hh":-0.05,"U":-0.08,"O":-0.08,"E":-0.08,"N":-0.06,"B":-0.08,"K":-0.07},
{"x":1924,"C":0.0,"Cl":-0.08,"Ch":0.08,"H":-0.02,"Hl":-0.06,"Hh":0.02,"U":-0.01,"O":-0.01,"E":-0.01,"N":0.0,"B":0.0,"K":0.0},
{"x":1926,"C":0.15,"Cl":0.07,"Ch":0.23,"H":0.17,"Hl":0.13,"Hh":0.21,"U":0.17,"O":0.17,"E":0.16,"N":0.15,"B":0.15,"K":0.16},
{"x":1928,"C":-0.02,"Cl":-0.1,"Ch":0.06,"H":-0.02,"Hl":-0.06,"Hh":0.02,"U":-0.02,"O":-0.02,"E":-0.02,"N":-0.01,"B":-0.03,"K":-0.02},
{"x":1930,"C":-0.1,"Cl":-0.18,"Ch":-0.02,"H":-0.09,"Hl":-0.13,"Hh":-0.05,"U":-0.09,"O":-0.09,"E":-0.09,"N":-0.08,"B":-0.12,"K":-0.09},
{"x":1932,"C":0.08,"Cl":0.0,"Ch":0.16,"H":0.1,"Hl":0.06,"Hh":0.14,"U":0.1,"O":0.1,"E":0.1,"N":0.09,"B":0.09,"K":0.08},
{"x":1934,"C":-0.1,"Cl":-0.18,"Ch":-0.02,"H":-0.12,"Hl":-0.16,"Hh":-0.08,"U":-0.12,"O":-0.11,"E":-0.11,"N":-0.1,"B":-0.12,"K":-0.1},
{"x":1936,"C":-0.03,"Cl":-0.11,"Ch":0.05,"H":-0.03,"Hl":-0.07,"Hh":0.01,"U":-0.02,"O":-0.02,"E":-0.03,"N":-0.02,"B":-0.03,"K":0.0},
{"x":1938,"C":0.02,"Cl":-0.06,"Ch":0.1,"H":0.02,"Hl":-0.02,"Hh":0.06,"U":0.03,"O":0.02,"E":0.02,"N":0.03,"B":0.02,"K":0.1},
{"x":1940,"C":-0.04,"Cl":-0.12,"Ch":0.04,"H":-0.06,"Hl":-0.1,"Hh":-0.02,"U":-0.05,"O":-0.05,"E":-0.06,"N":-0.03,"B":-0.04,"K":0.0},
{"x":1942,"C":0.15,"Cl":0.07,"Ch":0.23,"H":0.22,"Hl":0.16,"Hh":0.28,"U":0.27,"O":0.2,"E":0.3,"N":0.18,"B":0.1,"K":0.05},
{"x":1944,"C":0.05,"Cl":-0.03,"Ch":0.13,"H":0.18,"Hl":0.12,"Hh":0.24,"U":0.22,"O":0.12,"E":0.15,"N":0.2,"B":0.04,"K":-0.05},
{"x":1946,"C":-0.02,"Cl":-0.1,"Ch":0.06,"H":-0.02,"Hl":-0.08,"Hh":0.04,"U":0.0,"O":0.0,"E":-0.02,"N":0.02,"B":-0.03,"K":0.0},
{"x":1948,"C":-0.05,"Cl":-0.13,"Ch":0.03,"H":-0.14,"Hl":-0.2,"Hh":-0.08,"U":-0.12,"O":-0.08,"E":-0.1,"N":-0.12,"B":-0.04,"K":-0.07},
{"x":1950,"C":-0.08,"Cl":-0.16,"Ch":0.0,"H":-0.12,"Hl":-0.18,"Hh":-0.06,"U":-0.17,"O":-0.12,"E":-0.12,"N":-0.14,"B":-0.1,"K":-0.15},
{"x":1952,"C":0.06,"Cl":-0.02,"Ch":0.14,"H":0.1,"Hl":0.06,"Hh":0.14,"U":0.09,"O":0.08,"E":0.08,"N":0.08,"B":0.05,"K":0.06},
{"x":1954,"C":0.05,"Cl":-0.03,"Ch":0.13,"H":0.16,"Hl":0.12,"Hh":0.2,"U":0.13,"O":0.12,"E":0.12,"N":0.11,"B":0.05,"K":0.1},
{"x":1956,"C":-0.16,"Cl":-0.24,"Ch":-0.08,"H":-0.18,"Hl":-0.22,"Hh":-0.14,"U":-0.17,"O":-0.16,"E":-0.17,"N":-0.15,"B":-0.18,"K":-0.2},
{"x":1958,"C":0.12,"Cl":0.04,"Ch":0.2,"H":0.14,"Hl":0.1,"Hh":0.18,"U":0.15,"O":0.14,"E":0.14,"N":0.14,"B":0.12,"K":0.14},
{"x":1960,"C":0.04,"Cl":-0.04,"Ch":0.12,"H":0.06,"Hl":0.02,"Hh":0.1,"U":0.07,"O":0.05,"E":0.06,"N":0.06,"B":0.04,"K":0.05},
{"x":1962,"C":0.0,"Cl":-0.08,"Ch":0.08,"H":0.02,"Hl":-0.02,"Hh":0.06,"U":0.02,"O":0.01,"E":0.02,"N":0.02,"B":0.0,"K":0.02}
]
},
"layer": [
{"data": {"values": [{"x": 1900, "x2": 1930}]}, "mark": {"type": "rect", "color": "#f2f2f2"},
 "encoding": {"x": {"field": "x", "type": "quantitative", "scale": {"domain": [1850, 1962.5], "nice": false, "zero": false}, "axis": null, "title": null}, "x2": {"field": "x2"}}},
{"data": {"values": [{"x": 1850}, {"x": 1875}, {"x": 1950}]}, "mark": {"type": "rule", "color": "#cfcfcf", "strokeWidth": 1},
 "encoding": {"x": {"field": "x", "type": "quantitative", "title": null, "scale": {"domain": [1850, 1962.5], "nice": false, "zero": false},
   "axis": {"orient": "bottom", "values": [1850, 1900, 1950], "format": "d", "tickSize": 10, "labelFontSize": 13, "labelPadding": 7, "labelOverlap": false, "labelFlush": false, "domain": true, "grid": false, "title": null}}}},
{"data": {"values": [{"x": 1900}, {"x": 1930}]}, "mark": {"type": "rule", "color": "#a0a0a0", "strokeWidth": 1},
 "encoding": {"x": {"field": "x", "type": "quantitative", "title": null, "scale": {"domain": [1850, 1962.5], "nice": false, "zero": false},
   "axis": {"orient": "bottom", "values": [1850,1855,1860,1865,1870,1875,1880,1885,1890,1895,1900,1905,1910,1915,1920,1925,1930,1935,1940,1945,1950,1955,1960], "labels": false, "tickSize": -6, "domain": false, "grid": false, "title": null}}}},

{"data": {"name": "pa"}, "resolve": {"scale": {"y": "independent"}, "axis": {"y": "independent"}}, "layer": [
 {"data": {"values": [{}]}, "mark": {"type": "rule", "color": "#9a9a9a", "strokeWidth": 1},
  "encoding": {"y": {"datum": 0, "type": "quantitative", "scale": {"domain": [-8.6473, 1.3036], "nice": false, "zero": false},
   "axis": {"orient": "left", "offset": 10, "values": [-1,-0.9,-0.8,-0.7,-0.6,-0.5,-0.4,-0.3,-0.2,-0.1,0,0.1,0.2,0.3,0.4,0.5,0.6,0.7,0.8,0.9,1], "labels": false, "tickSize": -3.5, "domain": false, "grid": false, "title": null}}}},
 {"mark": {"type": "area", "fill": "#f5b45c", "fillOpacity": 0.3, "stroke": "#f0a040", "strokeOpacity": 0.45, "strokeWidth": 0.8},
  "encoding": {"x": {"field": "x", "type": "quantitative", "scale": {"domain": [1850, 1962.5], "nice": false, "zero": false}, "axis": null, "title": null},
   "y": {"field": "Cl", "type": "quantitative", "scale": {"domain": [-8.6473, 1.3036], "nice": false, "zero": false}, "axis": null}, "y2": {"field": "Ch"}}},
 {"mark": {"type": "area", "fill": "#6f6fff", "fillOpacity": 0.28, "stroke": "#7a7aff", "strokeOpacity": 0.5, "strokeWidth": 0.8},
  "encoding": {"x": {"field": "x", "type": "quantitative", "scale": {"domain": [1850, 1962.5], "nice": false, "zero": false}, "axis": null, "title": null},
   "y": {"field": "Hl", "type": "quantitative", "scale": {"domain": [-8.6473, 1.3036], "nice": false, "zero": false}, "axis": null}, "y2": {"field": "Hh"}}},
 {"transform": [{"fold": ["C", "B", "O", "E", "N", "H", "K", "U"], "as": ["k", "v"]}, {"lookup": "k", "from": {"data": {"name": "names"}, "key": "k", "fields": ["s"]}}],
  "mark": {"type": "line", "strokeWidth": 1.7},
  "encoding": {"x": {"field": "x", "type": "quantitative", "scale": {"domain": [1850, 1962.5], "nice": false, "zero": false}, "axis": null, "title": null},
   "y": {"field": "v", "type": "quantitative", "scale": {"domain": [-8.6473, 1.3036], "nice": false, "zero": false},
     "axis": {"orient": "left", "offset": 10, "values": [-1, -0.5, 0, 0.5, 1], "format": "~g", "tickSize": 9,
       "domain": false, "grid": false, "labelFontSize": 13, "labelPadding": 3, "labelOverlap": false, "labelFlush": false,
       "title": "Predicted global mean surface temperature anomaly [T\u0302, in °C]", "titleFontSize": 13, "titleFontWeight": "normal", "titleX": -69, "titleY": 537, "titleAngle": -90, "titleAlign": "center", "titleBaseline": "middle"}},
   "color": {"field": "s", "type": "nominal",
     "scale": {"domain": ["CRUTEM5", "COBE2−SST", "BEST−Land", "HadSST4", "ERSSTv5", "CoastalHybridSST", "HadSST4−unadj", "ClassNMAT"], "range": ["#f28522", "#4a3d9a", "#9c7c22", "#1f1ff0", "#2f7f8c", "#a3262a", "#9a23a8", "#86cff5"]},
     "legend": {"title": "Dataset used for GMST reconstruction", "orient": "none", "legendX": 69, "legendY": 1, "columns": 3, "direction": "horizontal", "symbolType": "M-2.5,0H2.5", "symbolSize": 100, "symbolOffset": 7, "symbolStrokeWidth": 2, "labelFontSize": 12, "labelFont": "Liberation Sans", "labelColor": "#000", "titleFontSize": 11.5, "titleFont": "Liberation Sans", "titleColor": "#000", "titleFontWeight": "normal", "titleAnchor": "middle", "titlePadding": 2.5, "strokeColor": "#000", "fillColor": "#fff", "padding": 7, "columnPadding": 2, "rowPadding": 2, "labelOffset": 22.5, "gridAlign": "all", "labelLimit": 0, "titleLimit": 0}},
   "strokeDash": {"field": "s", "type": "nominal",
     "scale": {"domain": ["CRUTEM5", "COBE2−SST", "BEST−Land", "HadSST4", "ERSSTv5", "CoastalHybridSST", "HadSST4−unadj", "ClassNMAT"], "range": [[1,0],[7,4],[7,4],[1,0],[7,4],[1,0],[1,0],[1,0]]},
     "legend": {"title": "Dataset used for GMST reconstruction", "orient": "none", "legendX": 69, "legendY": 1, "columns": 3, "direction": "horizontal", "symbolType": "M-2.5,0H2.5", "symbolSize": 100, "symbolOffset": 7, "symbolStrokeWidth": 2, "labelFontSize": 12, "labelFont": "Liberation Sans", "labelColor": "#000", "titleFontSize": 11.5, "titleFont": "Liberation Sans", "titleColor": "#000", "titleFontWeight": "normal", "titleAnchor": "middle", "titlePadding": 2.5, "strokeColor": "#000", "fillColor": "#fff", "padding": 7, "columnPadding": 2, "rowPadding": 2, "labelOffset": 22.5, "gridAlign": "all", "labelLimit": 0, "titleLimit": 0}}}},
 {"data": {"values": [{}]}, "mark": {"type": "rule", "color": "#000", "strokeWidth": 1, "xOffset": -10},
  "encoding": {"x": {"datum": 1850, "type": "quantitative", "scale": {"domain": [1850, 1962.5], "nice": false, "zero": false}, "axis": null},
   "y": {"datum": -1, "type": "quantitative", "scale": {"domain": [-8.6473, 1.3036], "nice": false, "zero": false}, "axis": null}, "y2": {"datum": 1}}},
 {"data": {"values": [{}]}, "mark": {"type": "text", "align": "left", "baseline": "middle", "fontSize": 14, "fontWeight": "bold", "color": "#000"},
  "encoding": {"x": {"datum": 1851, "type": "quantitative", "scale": {"domain": [1850, 1962.5], "nice": false, "zero": false}, "axis": null},
   "y": {"datum": 0.52, "type": "quantitative", "scale": {"domain": [-8.6473, 1.3036], "nice": false, "zero": false}, "axis": null}, "text": {"value": "a. Original Reconstruction"}}}
]},

{"data": {"name": "pb"}, "resolve": {"scale": {"y": "independent"}, "axis": {"y": "independent"}}, "layer": [
 {"data": {"values": [{}]}, "mark": {"type": "rule", "color": "#9a9a9a", "strokeWidth": 1},
  "encoding": {"y": {"datum": 0, "type": "quantitative", "scale": {"domain": [-7.1434, 2.8075], "nice": false, "zero": false},
   "axis": {"orient": "right", "offset": 0, "values": [-1,-0.9,-0.8,-0.7,-0.6,-0.5,-0.4,-0.3,-0.2,-0.1,0,0.1,0.2,0.3,0.4,0.5,0.6,0.7,0.8,0.9,1], "labels": false, "tickSize": -3.5, "domain": false, "grid": false, "title": null}}}},
 {"mark": {"type": "area", "interpolate": "monotone", "fill": "#f5b45c", "fillOpacity": 0.3, "stroke": "#f0a040", "strokeOpacity": 0.45, "strokeWidth": 0.8},
  "encoding": {"x": {"field": "x", "type": "quantitative", "scale": {"domain": [1850, 1962.5], "nice": false, "zero": false}, "axis": null, "title": null},
   "y": {"field": "Cl", "type": "quantitative", "scale": {"domain": [-7.1434, 2.8075], "nice": false, "zero": false}, "axis": null}, "y2": {"field": "Ch"}}},
 {"mark": {"type": "area", "interpolate": "monotone", "fill": "#6f6fff", "fillOpacity": 0.28, "stroke": "#7a7aff", "strokeOpacity": 0.5, "strokeWidth": 0.8},
  "encoding": {"x": {"field": "x", "type": "quantitative", "scale": {"domain": [1850, 1962.5], "nice": false, "zero": false}, "axis": null, "title": null},
   "y": {"field": "Hl", "type": "quantitative", "scale": {"domain": [-7.1434, 2.8075], "nice": false, "zero": false}, "axis": null}, "y2": {"field": "Hh"}}},
 {"transform": [{"fold": ["C", "B", "O", "E", "N", "H", "K", "U"], "as": ["k", "v"]}, {"lookup": "k", "from": {"data": {"name": "names"}, "key": "k", "fields": ["s"]}}],
  "mark": {"type": "line", "strokeWidth": 1.7, "interpolate": "monotone"},
  "encoding": {"x": {"field": "x", "type": "quantitative", "scale": {"domain": [1850, 1962.5], "nice": false, "zero": false}, "axis": null, "title": null},
   "y": {"field": "v", "type": "quantitative", "scale": {"domain": [-7.1434, 2.8075], "nice": false, "zero": false},
     "axis": {"orient": "right", "offset": 0, "values": [-1, -0.5, 0, 0.5, 1], "format": "~g", "tickSize": 9, "domain": false, "grid": false, "labelFontSize": 13, "labelPadding": 3, "labelOverlap": false, "labelFlush": false, "title": null}},
   "color": {"field": "s", "type": "nominal", "scale": {"domain": ["CRUTEM5", "COBE2−SST", "BEST−Land", "HadSST4", "ERSSTv5", "CoastalHybridSST", "HadSST4−unadj", "ClassNMAT"], "range": ["#f28522", "#4a3d9a", "#9c7c22", "#1f1ff0", "#2f7f8c", "#a3262a", "#9a23a8", "#86cff5"]}, "legend": null},
   "strokeDash": {"field": "s", "type": "nominal", "scale": {"domain": ["CRUTEM5", "COBE2−SST", "BEST−Land", "HadSST4", "ERSSTv5", "CoastalHybridSST", "HadSST4−unadj", "ClassNMAT"], "range": [[1,0],[7,4],[7,4],[1,0],[7,4],[1,0],[1,0],[1,0]]}, "legend": null}}},
 {"data": {"values": [{}]}, "mark": {"type": "rule", "color": "#000", "strokeWidth": 1},
  "encoding": {"x": {"datum": 1962.5, "type": "quantitative", "scale": {"domain": [1850, 1962.5], "nice": false, "zero": false}, "axis": null},
   "y": {"datum": -1, "type": "quantitative", "scale": {"domain": [-7.1434, 2.8075], "nice": false, "zero": false}, "axis": null}, "y2": {"datum": 1}}},
 {"data": {"values": [{}]}, "mark": {"type": "text", "align": "left", "baseline": "middle", "fontSize": 14, "fontWeight": "bold", "color": "#000", "lineHeight": 20},
  "encoding": {"x": {"datum": 1851, "type": "quantitative", "scale": {"domain": [1850, 1962.5], "nice": false, "zero": false}, "axis": null},
   "y": {"datum": 0.43, "type": "quantitative", "scale": {"domain": [-7.1434, 2.8075], "nice": false, "zero": false}, "axis": null}, "text": {"value": ["b. Low−pass filtered", " (>20yr)"]}}}
]},

{"data": {"name": "pc"}, "resolve": {"scale": {"y": "independent"}, "axis": {"y": "independent"}}, "layer": [
 {"data": {"values": [{}]}, "mark": {"type": "rule", "color": "#9a9a9a", "strokeWidth": 1},
  "encoding": {"y": {"datum": 0, "type": "quantitative", "scale": {"domain": [-5.6395, 4.3114], "nice": false, "zero": false},
   "axis": {"orient": "left", "offset": 10, "values": [-1,-0.9,-0.8,-0.7,-0.6,-0.5,-0.4,-0.3,-0.2,-0.1,0,0.1,0.2,0.3,0.4,0.5,0.6,0.7,0.8,0.9,1], "labels": false, "tickSize": -3.5, "domain": false, "grid": false, "title": null}}}},
 {"mark": {"type": "area", "fill": "#f5b45c", "fillOpacity": 0.3, "stroke": "#f0a040", "strokeOpacity": 0.45, "strokeWidth": 0.8},
  "encoding": {"x": {"field": "x", "type": "quantitative", "scale": {"domain": [1850, 1962.5], "nice": false, "zero": false}, "axis": null, "title": null},
   "y": {"field": "Cl", "type": "quantitative", "scale": {"domain": [-5.6395, 4.3114], "nice": false, "zero": false}, "axis": null}, "y2": {"field": "Ch"}}},
 {"mark": {"type": "area", "fill": "#6f6fff", "fillOpacity": 0.28, "stroke": "#7a7aff", "strokeOpacity": 0.5, "strokeWidth": 0.8},
  "encoding": {"x": {"field": "x", "type": "quantitative", "scale": {"domain": [1850, 1962.5], "nice": false, "zero": false}, "axis": null, "title": null},
   "y": {"field": "Hl", "type": "quantitative", "scale": {"domain": [-5.6395, 4.3114], "nice": false, "zero": false}, "axis": null}, "y2": {"field": "Hh"}}},
 {"transform": [{"fold": ["C", "B", "O", "E", "N", "H", "K", "U"], "as": ["k", "v"]}, {"lookup": "k", "from": {"data": {"name": "names"}, "key": "k", "fields": ["s"]}}],
  "mark": {"type": "line", "strokeWidth": 1.7},
  "encoding": {"x": {"field": "x", "type": "quantitative", "scale": {"domain": [1850, 1962.5], "nice": false, "zero": false}, "axis": null, "title": null},
   "y": {"field": "v", "type": "quantitative", "scale": {"domain": [-5.6395, 4.3114], "nice": false, "zero": false},
     "axis": {"orient": "left", "offset": 10, "values": [-1, -0.5, 0, 0.5, 1], "format": "~g", "tickSize": 9, "domain": false, "grid": false, "labelFontSize": 13, "labelPadding": 3, "labelOverlap": false, "labelFlush": false, "title": null}},
   "color": {"field": "s", "type": "nominal", "scale": {"domain": ["CRUTEM5", "COBE2−SST", "BEST−Land", "HadSST4", "ERSSTv5", "CoastalHybridSST", "HadSST4−unadj", "ClassNMAT"], "range": ["#f28522", "#4a3d9a", "#9c7c22", "#1f1ff0", "#2f7f8c", "#a3262a", "#9a23a8", "#86cff5"]}, "legend": null},
   "strokeDash": {"field": "s", "type": "nominal", "scale": {"domain": ["CRUTEM5", "COBE2−SST", "BEST−Land", "HadSST4", "ERSSTv5", "CoastalHybridSST", "HadSST4−unadj", "ClassNMAT"], "range": [[1,0],[7,4],[7,4],[1,0],[7,4],[1,0],[1,0],[1,0]]}, "legend": null}}},
 {"data": {"values": [{}]}, "mark": {"type": "rule", "color": "#000", "strokeWidth": 1, "xOffset": -10},
  "encoding": {"x": {"datum": 1850, "type": "quantitative", "scale": {"domain": [1850, 1962.5], "nice": false, "zero": false}, "axis": null},
   "y": {"datum": -1, "type": "quantitative", "scale": {"domain": [-5.6395, 4.3114], "nice": false, "zero": false}, "axis": null}, "y2": {"datum": 1}}},
 {"data": {"values": [{}]}, "mark": {"type": "text", "align": "left", "baseline": "middle", "fontSize": 14, "fontWeight": "bold", "color": "#000", "lineHeight": 20},
  "encoding": {"x": {"datum": 1851, "type": "quantitative", "scale": {"domain": [1850, 1962.5], "nice": false, "zero": false}, "axis": null},
   "y": {"datum": 0.64, "type": "quantitative", "scale": {"domain": [-5.6395, 4.3114], "nice": false, "zero": false}, "axis": null}, "text": {"value": ["c. High−pass filtered", " (<20yr)"]}}}
]},

{"data": {"name": "pd"}, "resolve": {"scale": {"y": "independent"}, "axis": {"y": "independent"}}, "layer": [
 {"data": {"values": [{}]}, "mark": {"type": "rule", "color": "#9a9a9a", "strokeWidth": 1},
  "encoding": {"y": {"datum": 0, "type": "quantitative", "scale": {"domain": [-4.1356, 5.8153], "nice": false, "zero": false},
   "axis": {"orient": "right", "offset": 0, "values": [-1,-0.9,-0.8,-0.7,-0.6,-0.5,-0.4,-0.3,-0.2,-0.1,0,0.1,0.2,0.3,0.4,0.5,0.6,0.7,0.8,0.9,1], "labels": false, "tickSize": -3.5, "domain": false, "grid": false, "title": null}}}},
 {"transform": [{"fold": ["C", "B", "O", "E", "N", "H", "K", "U"], "as": ["k", "v"]}, {"lookup": "k", "from": {"data": {"name": "names"}, "key": "k", "fields": ["s"]}}],
  "mark": {"type": "line", "strokeWidth": 1.7},
  "encoding": {"x": {"field": "x", "type": "quantitative", "scale": {"domain": [1850, 1962.5], "nice": false, "zero": false}, "axis": null, "title": null},
   "y": {"field": "v", "type": "quantitative", "scale": {"domain": [-4.1356, 5.8153], "nice": false, "zero": false},
     "axis": {"orient": "right", "offset": 0, "values": [-1, -0.5, 0, 0.5, 1], "format": "~g", "tickSize": 9, "domain": false, "grid": false, "labelFontSize": 13, "labelPadding": 3, "labelOverlap": false, "labelFlush": false, "title": null}},
   "color": {"field": "s", "type": "nominal", "scale": {"domain": ["CRUTEM5", "COBE2−SST", "BEST−Land", "HadSST4", "ERSSTv5", "CoastalHybridSST", "HadSST4−unadj", "ClassNMAT"], "range": ["#f28522", "#4a3d9a", "#9c7c22", "#1f1ff0", "#2f7f8c", "#a3262a", "#9a23a8", "#86cff5"]}, "legend": null},
   "strokeDash": {"field": "s", "type": "nominal", "scale": {"domain": ["CRUTEM5", "COBE2−SST", "BEST−Land", "HadSST4", "ERSSTv5", "CoastalHybridSST", "HadSST4−unadj", "ClassNMAT"], "range": [[1,0],[7,4],[7,4],[1,0],[7,4],[1,0],[1,0],[1,0]]}, "legend": null}}},
 {"data": {"values": [{}]}, "mark": {"type": "rule", "color": "#000", "strokeWidth": 1},
  "encoding": {"x": {"datum": 1962.5, "type": "quantitative", "scale": {"domain": [1850, 1962.5], "nice": false, "zero": false}, "axis": null},
   "y": {"datum": -1, "type": "quantitative", "scale": {"domain": [-4.1356, 5.8153], "nice": false, "zero": false}, "axis": null}, "y2": {"datum": 1}}},
 {"data": {"values": [{}]}, "mark": {"type": "text", "align": "left", "baseline": "middle", "fontSize": 14, "fontWeight": "bold", "color": "#000"},
  "encoding": {"x": {"datum": 1851, "type": "quantitative", "scale": {"domain": [1850, 1962.5], "nice": false, "zero": false}, "axis": null},
   "y": {"datum": 0.51, "type": "quantitative", "scale": {"domain": [-4.1356, 5.8153], "nice": false, "zero": false}, "axis": null}, "text": {"value": "d. Forced response"}}}
]},

{"data": {"name": "pe"}, "resolve": {"scale": {"y": "independent"}, "axis": {"y": "independent"}}, "layer": [
 {"data": {"values": [{}]}, "mark": {"type": "rule", "color": "#9a9a9a", "strokeWidth": 1},
  "encoding": {"y": {"datum": 0, "type": "quantitative", "scale": {"domain": [-2.6316, 7.3193], "nice": false, "zero": false},
   "axis": {"orient": "left", "offset": 10, "values": [-1,-0.9,-0.8,-0.7,-0.6,-0.5,-0.4,-0.3,-0.2,-0.1,0,0.1,0.2,0.3,0.4,0.5,0.6,0.7,0.8,0.9,1], "labels": false, "tickSize": -3.5, "domain": false, "grid": false, "title": null}}}},
 {"mark": {"type": "area", "interpolate": "monotone", "fill": "#f5b45c", "fillOpacity": 0.3, "stroke": "#f0a040", "strokeOpacity": 0.45, "strokeWidth": 0.8},
  "encoding": {"x": {"field": "x", "type": "quantitative", "scale": {"domain": [1850, 1962.5], "nice": false, "zero": false}, "axis": null, "title": null},
   "y": {"field": "Cl", "type": "quantitative", "scale": {"domain": [-2.6316, 7.3193], "nice": false, "zero": false}, "axis": null}, "y2": {"field": "Ch"}}},
 {"mark": {"type": "area", "interpolate": "monotone", "fill": "#6f6fff", "fillOpacity": 0.28, "stroke": "#7a7aff", "strokeOpacity": 0.5, "strokeWidth": 0.8},
  "encoding": {"x": {"field": "x", "type": "quantitative", "scale": {"domain": [1850, 1962.5], "nice": false, "zero": false}, "axis": null, "title": null},
   "y": {"field": "Hl", "type": "quantitative", "scale": {"domain": [-2.6316, 7.3193], "nice": false, "zero": false}, "axis": null}, "y2": {"field": "Hh"}}},
 {"transform": [{"fold": ["C", "B", "O", "E", "N", "H", "K", "U"], "as": ["k", "v"]}, {"lookup": "k", "from": {"data": {"name": "names"}, "key": "k", "fields": ["s"]}}],
  "mark": {"type": "line", "strokeWidth": 1.7, "interpolate": "monotone"},
  "encoding": {"x": {"field": "x", "type": "quantitative", "scale": {"domain": [1850, 1962.5], "nice": false, "zero": false}, "axis": null, "title": null},
   "y": {"field": "v", "type": "quantitative", "scale": {"domain": [-2.6316, 7.3193], "nice": false, "zero": false},
     "axis": {"orient": "left", "offset": 10, "values": [-1, -0.5, 0, 0.5, 1], "format": "~g", "tickSize": 9, "domain": false, "grid": false, "labelFontSize": 13, "labelPadding": 3, "labelOverlap": false, "labelFlush": false, "title": null}},
   "color": {"field": "s", "type": "nominal", "scale": {"domain": ["CRUTEM5", "COBE2−SST", "BEST−Land", "HadSST4", "ERSSTv5", "CoastalHybridSST", "HadSST4−unadj", "ClassNMAT"], "range": ["#f28522", "#4a3d9a", "#9c7c22", "#1f1ff0", "#2f7f8c", "#a3262a", "#9a23a8", "#86cff5"]}, "legend": null},
   "strokeDash": {"field": "s", "type": "nominal", "scale": {"domain": ["CRUTEM5", "COBE2−SST", "BEST−Land", "HadSST4", "ERSSTv5", "CoastalHybridSST", "HadSST4−unadj", "ClassNMAT"], "range": [[1,0],[7,4],[7,4],[1,0],[7,4],[1,0],[1,0],[1,0]]}, "legend": null}}},
 {"data": {"values": [{}]}, "mark": {"type": "rule", "color": "#000", "strokeWidth": 1, "xOffset": -10},
  "encoding": {"x": {"datum": 1850, "type": "quantitative", "scale": {"domain": [1850, 1962.5], "nice": false, "zero": false}, "axis": null},
   "y": {"datum": -1, "type": "quantitative", "scale": {"domain": [-2.6316, 7.3193], "nice": false, "zero": false}, "axis": null}, "y2": {"datum": 1}}},
 {"data": {"values": [{}]}, "mark": {"type": "text", "align": "left", "baseline": "middle", "fontSize": 14, "fontWeight": "bold", "color": "#000"},
  "encoding": {"x": {"datum": 1851, "type": "quantitative", "scale": {"domain": [1850, 1962.5], "nice": false, "zero": false}, "axis": null},
   "y": {"datum": 0.5, "type": "quantitative", "scale": {"domain": [-2.6316, 7.3193], "nice": false, "zero": false}, "axis": null}, "text": {"value": "e. Unforced, low−pass filtered (>20yr)"}}}
]},

{"data": {"name": "pf"}, "resolve": {"scale": {"y": "independent"}, "axis": {"y": "independent"}}, "layer": [
 {"data": {"values": [{}]}, "mark": {"type": "rule", "color": "#9a9a9a", "strokeWidth": 1},
  "encoding": {"y": {"datum": 0, "type": "quantitative", "scale": {"domain": [-1.1277, 8.8232], "nice": false, "zero": false},
   "axis": {"orient": "right", "offset": 0, "values": [-1,-0.9,-0.8,-0.7,-0.6,-0.5,-0.4,-0.3,-0.2,-0.1,0,0.1,0.2,0.3,0.4,0.5,0.6,0.7,0.8,0.9,1], "labels": false, "tickSize": -3.5, "domain": false, "grid": false, "title": null}}}},
 {"mark": {"type": "area", "fill": "#f5b45c", "fillOpacity": 0.3, "stroke": "#f0a040", "strokeOpacity": 0.45, "strokeWidth": 0.8},
  "encoding": {"x": {"field": "x", "type": "quantitative", "scale": {"domain": [1850, 1962.5], "nice": false, "zero": false}, "axis": null, "title": null},
   "y": {"field": "Cl", "type": "quantitative", "scale": {"domain": [-1.1277, 8.8232], "nice": false, "zero": false}, "axis": null}, "y2": {"field": "Ch"}}},
 {"mark": {"type": "area", "fill": "#6f6fff", "fillOpacity": 0.28, "stroke": "#7a7aff", "strokeOpacity": 0.5, "strokeWidth": 0.8},
  "encoding": {"x": {"field": "x", "type": "quantitative", "scale": {"domain": [1850, 1962.5], "nice": false, "zero": false}, "axis": null, "title": null},
   "y": {"field": "Hl", "type": "quantitative", "scale": {"domain": [-1.1277, 8.8232], "nice": false, "zero": false}, "axis": null}, "y2": {"field": "Hh"}}},
 {"transform": [{"fold": ["C", "B", "O", "E", "N", "H", "K", "U"], "as": ["k", "v"]}, {"lookup": "k", "from": {"data": {"name": "names"}, "key": "k", "fields": ["s"]}}],
  "mark": {"type": "line", "strokeWidth": 1.7},
  "encoding": {"x": {"field": "x", "type": "quantitative", "scale": {"domain": [1850, 1962.5], "nice": false, "zero": false}, "axis": null, "title": null},
   "y": {"field": "v", "type": "quantitative", "scale": {"domain": [-1.1277, 8.8232], "nice": false, "zero": false},
     "axis": {"orient": "right", "offset": 0, "values": [-1, -0.5, 0, 0.5, 1], "format": "~g", "tickSize": 9, "domain": false, "grid": false, "labelFontSize": 13, "labelPadding": 3, "labelOverlap": false, "labelFlush": false, "title": null}},
   "color": {"field": "s", "type": "nominal", "scale": {"domain": ["CRUTEM5", "COBE2−SST", "BEST−Land", "HadSST4", "ERSSTv5", "CoastalHybridSST", "HadSST4−unadj", "ClassNMAT"], "range": ["#f28522", "#4a3d9a", "#9c7c22", "#1f1ff0", "#2f7f8c", "#a3262a", "#9a23a8", "#86cff5"]}, "legend": null},
   "strokeDash": {"field": "s", "type": "nominal", "scale": {"domain": ["CRUTEM5", "COBE2−SST", "BEST−Land", "HadSST4", "ERSSTv5", "CoastalHybridSST", "HadSST4−unadj", "ClassNMAT"], "range": [[1,0],[7,4],[7,4],[1,0],[7,4],[1,0],[1,0],[1,0]]}, "legend": null}}},
 {"data": {"values": [{}]}, "mark": {"type": "rule", "color": "#000", "strokeWidth": 1},
  "encoding": {"x": {"datum": 1962.5, "type": "quantitative", "scale": {"domain": [1850, 1962.5], "nice": false, "zero": false}, "axis": null},
   "y": {"datum": -1, "type": "quantitative", "scale": {"domain": [-1.1277, 8.8232], "nice": false, "zero": false}, "axis": null}, "y2": {"datum": 1}}},
 {"data": {"values": [{}]}, "mark": {"type": "text", "align": "left", "baseline": "middle", "fontSize": 14, "fontWeight": "bold", "color": "#000"},
  "encoding": {"x": {"datum": 1851, "type": "quantitative", "scale": {"domain": [1850, 1962.5], "nice": false, "zero": false}, "axis": null},
   "y": {"datum": 0.49, "type": "quantitative", "scale": {"domain": [-1.1277, 8.8232], "nice": false, "zero": false}, "axis": null}, "text": {"value": "f. Unforced, high−pass filtered (<20yr)"}}}
]}
],
"resolve": {"scale": {"x": "independent", "y": "independent"}, "axis": {"x": "independent", "y": "independent"}}
}
